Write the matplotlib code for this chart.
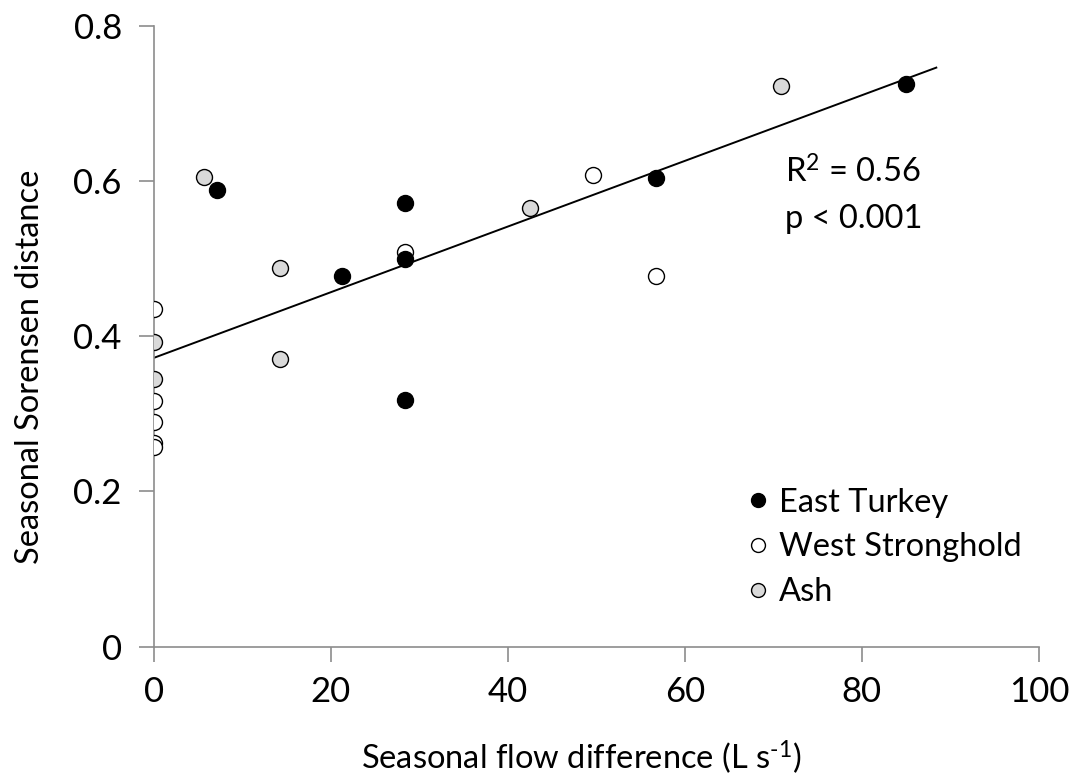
import numpy as np
import matplotlib.pyplot as plt

plt.rcParams['font.family'] = ['Lato', 'DejaVu Sans']
plt.rcParams['mathtext.fontset'] = 'custom'
plt.rcParams['mathtext.rm'] = 'Lato'
plt.rcParams['mathtext.it'] = 'Lato:italic'

# data
east_x = [7.2, 21.3, 28.4, 28.4, 28.4, 56.7, 85.0]
east_y = [0.588, 0.477, 0.572, 0.500, 0.318, 0.604, 0.725]

west_x = [0, 0, 0, 0, 0, 28.4, 49.6, 56.7]
west_y = [0.435, 0.316, 0.289, 0.262, 0.257, 0.509, 0.607, 0.478]

ash_x = [0, 0, 5.7, 14.3, 14.3, 42.5, 70.9]
ash_y = [0.393, 0.345, 0.605, 0.488, 0.371, 0.565, 0.722]

# fitted line as shown
fit_intercept = 0.372
fit_slope = 0.00423
fit_xmax = 88.4

xticks = [0, 20, 40, 60, 80, 100]
yticks = [0, 0.2, 0.4, 0.6, 0.8]
ylabels = ['0', '0.2', '0.4', '0.6', '0.8']

fig = plt.figure(figsize=(10.75, 7.77), dpi=100)
ax = fig.add_axes([0.143, 0.1677, 0.8235, 0.7993])

lx = np.array([0, fit_xmax])
ax.plot(lx, fit_intercept + fit_slope * lx, color='black', lw=1.4, zorder=2)

ms = 11.5
ax.plot(west_x, west_y, 'o', ms=ms, mfc='white', mec='black', mew=1.0,
        label='West Stronghold', zorder=3)
ax.plot(ash_x, ash_y, 'o', ms=ms, mfc='#d9d9d9', mec='black', mew=1.0,
        label='Ash', zorder=3)
ax.plot(east_x, east_y, 'o', ms=ms, mfc='black', mec='black', mew=1.0,
        label='East Turkey', zorder=4)

ax.set_xlim(0, 100)
ax.set_ylim(0, 0.8)
ax.set_xticks(xticks)
ax.set_yticks(yticks)
ax.set_yticklabels(ylabels)

for s in ['top', 'right']:
    ax.spines[s].set_visible(False)
for s in ['left', 'bottom']:
    ax.spines[s].set_color('#8c8c8c')
    ax.spines[s].set_linewidth(1.2)
ax.tick_params(direction='out', length=11, width=1.2, color='#8c8c8c',
               labelsize=25)
ax.tick_params(axis='x', pad=10)
ax.tick_params(axis='y', pad=12)

ax.set_xlabel('Seasonal flow difference (L s$^{\\text{-}1}$)', fontsize=23.5)
ax.set_ylabel('Seasonal Sorensen distance', fontsize=23.5)
ax.xaxis.set_label_coords(0.483, -0.148)
ax.yaxis.set_label_coords(-0.123, 0.45)

ax.text(71.3, 0.582, 'R$^2$ = 0.56\np < 0.001', fontsize=23.5,
        va='center', ha='left', linespacing=1.6)

h, l = ax.get_legend_handles_labels()
order = [2, 0, 1]
leg = ax.legend([h[i] for i in order], [l[i] for i in order],
                loc='upper left', bbox_to_anchor=(0.653, 0.277),
                frameon=False, fontsize=23.5, handletextpad=0.25,
                handlelength=0.8, labelspacing=0.45, borderaxespad=0)
for hh in leg.legend_handles:
    hh.set_markersize(10)

fig.savefig('out.png', dpi=100)
